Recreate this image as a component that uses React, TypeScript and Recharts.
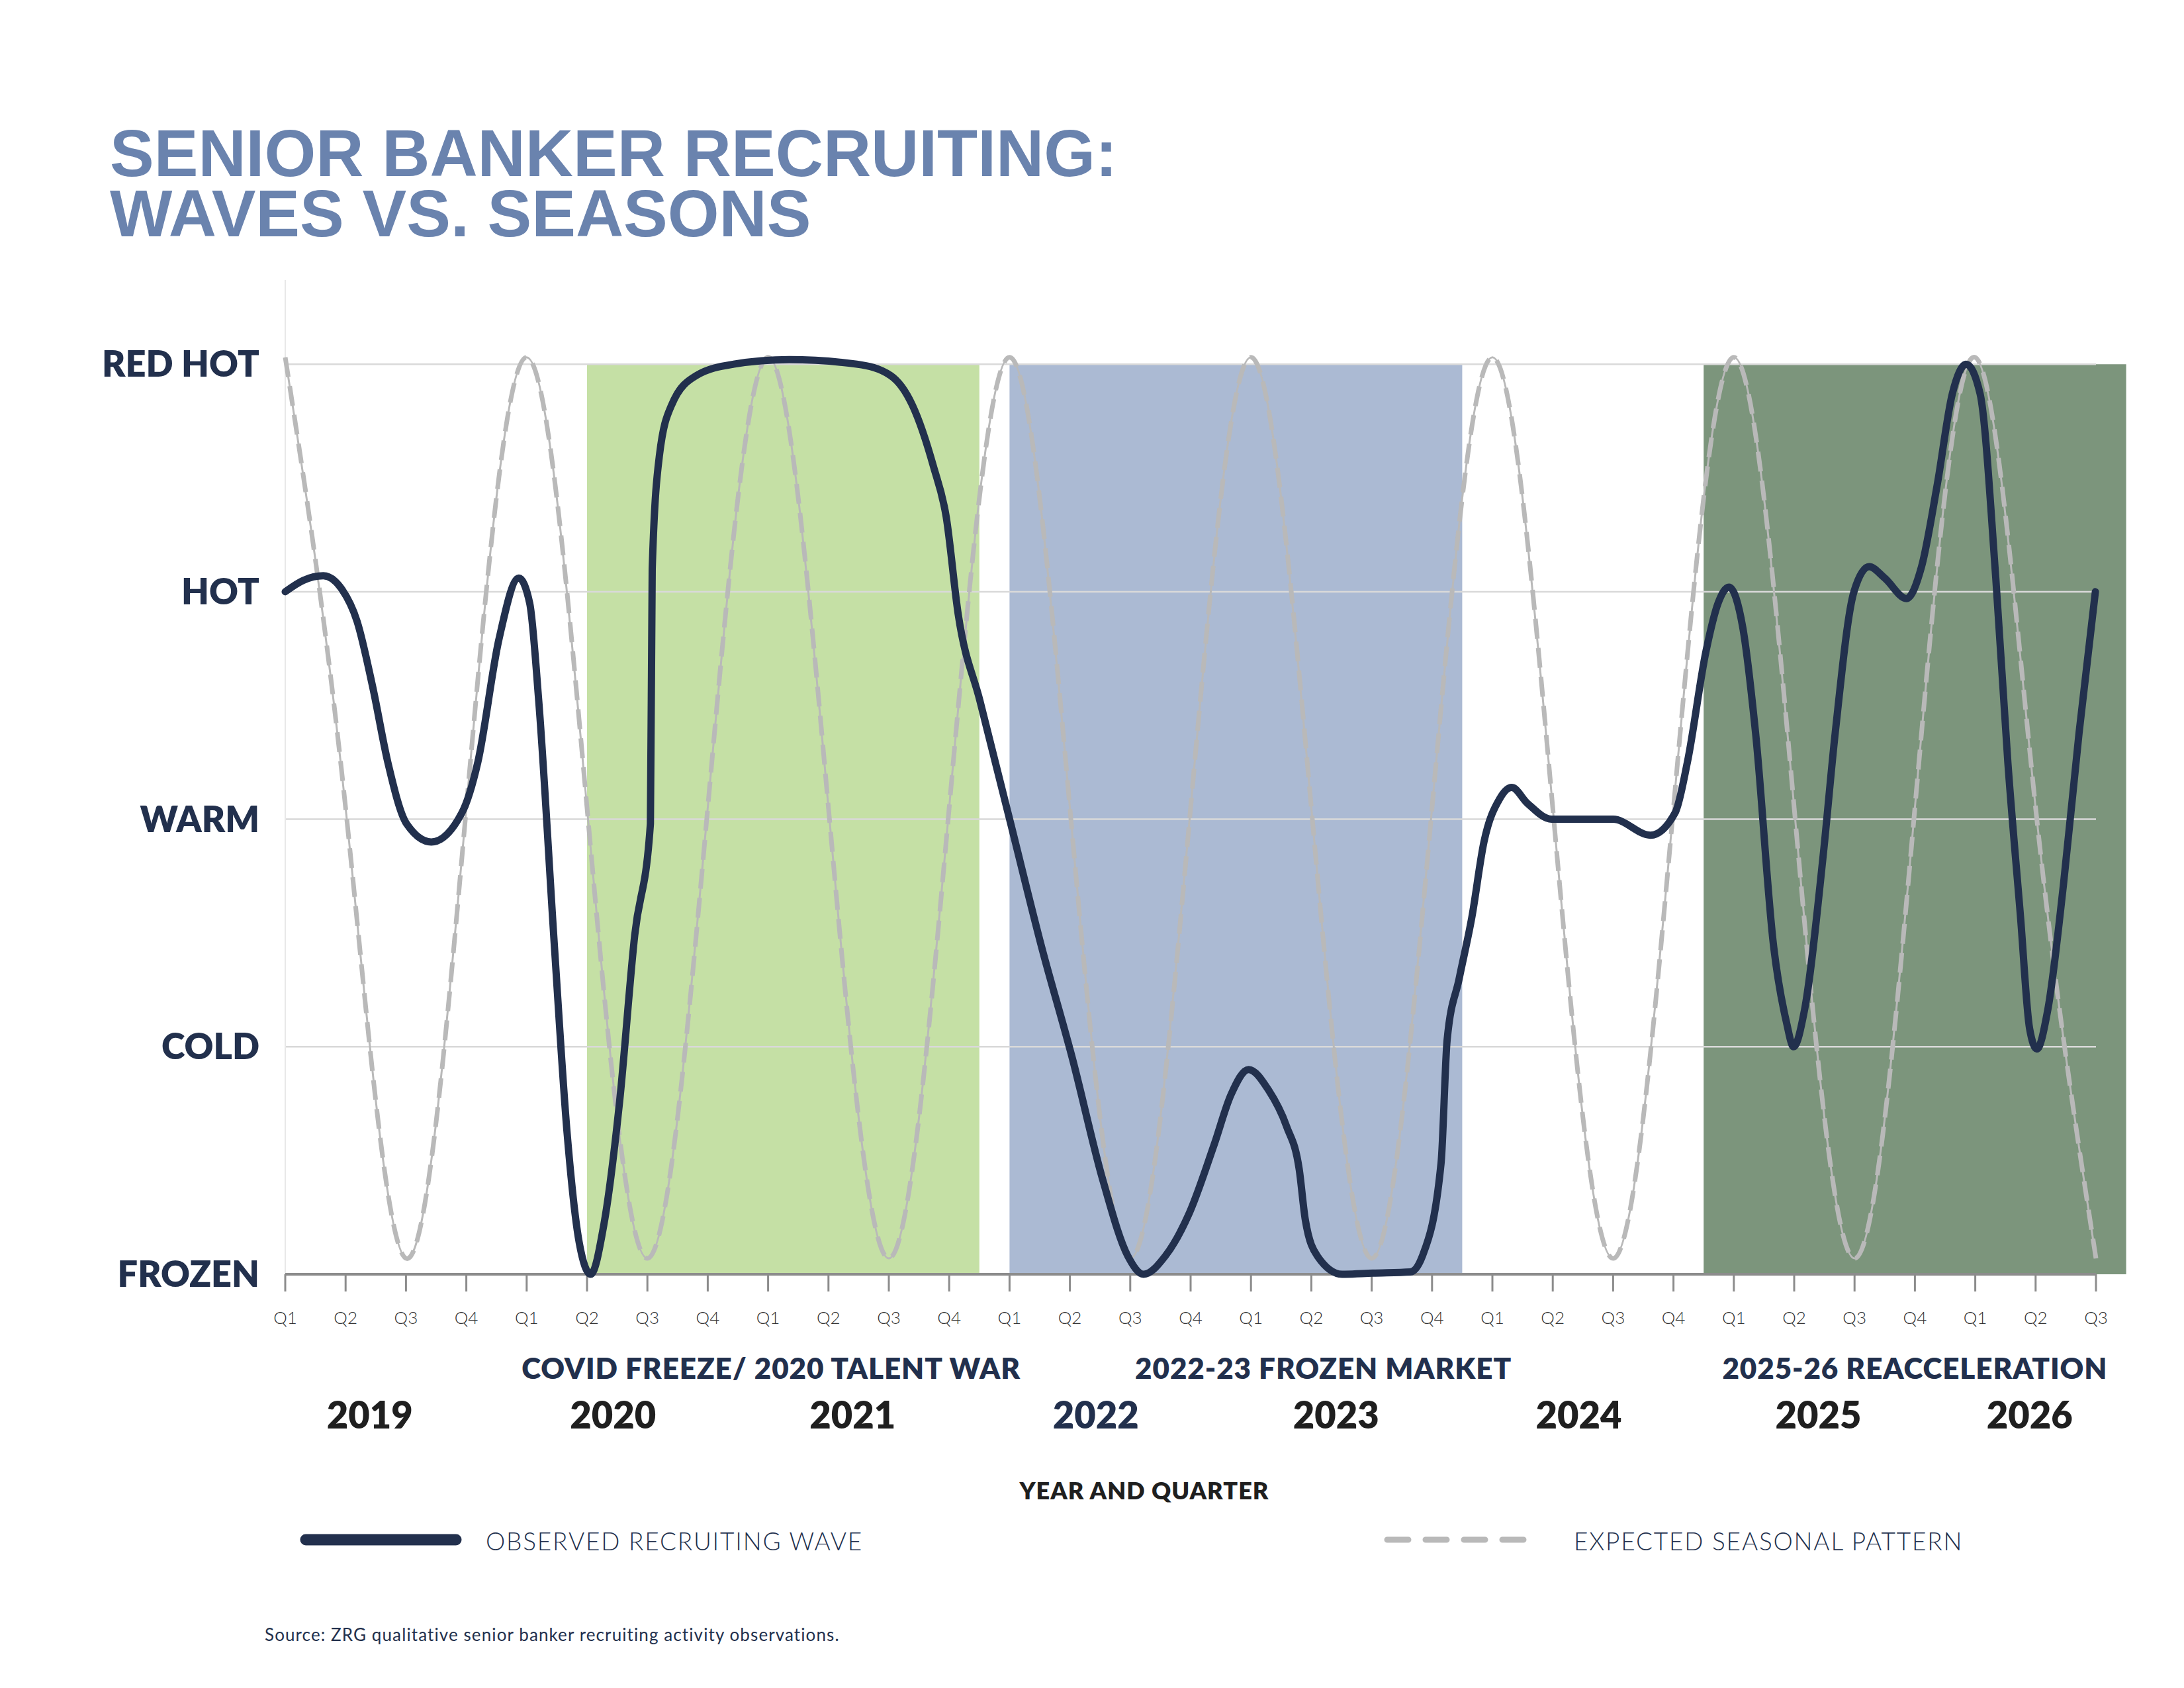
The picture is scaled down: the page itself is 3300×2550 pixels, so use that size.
import React from 'react';
import { LineChart, Line, XAxis, YAxis, ReferenceArea, ReferenceLine, ReferenceDot } from 'recharts';

// ---- data ----
const QUARTER_NAMES = ['Q1', 'Q2', 'Q3', 'Q4'];
const quarterTicks = Array.from({ length: 31 }, (_, i) => i); // 2019 Q1 .. 2026 Q3

const levelLabels = ['FROZEN', 'COLD', 'WARM', 'HOT', 'RED HOT'];
const levelTicks = [0, 1, 2, 3, 4];

const years = ['2019', '2020', '2021', '2022', '2023', '2024', '2025', '2026'];
const yearPos = [1.4, 5.43, 9.4, 13.43, 17.41, 21.43, 25.4, 28.9];

const regionNotes = ['COVID FREEZE/ 2020 TALENT WAR', '2022-23 FROZEN MARKET', '2025-26 REACCELERATION'];
const notePos = [8.05, 17.2, 27.0];
const regionSpans: [number, number][] = [
  [5, 11.5],
  [12, 19.5],
  [23.5, 30.5],
];

// expected seasonal pattern, one value per quarter
const seasonalLevel = [
  4.03, 2.05, 0.07, 2.05,
  4.03, 2.05, 0.07, 2.05,
  4.03, 2.05, 0.07, 2.05,
  4.03, 2.05, 0.07, 2.05,
  4.03, 2.05, 0.07, 2.05,
  4.03, 2.05, 0.07, 2.05,
  4.03, 2.05, 0.07, 2.05,
  4.03, 2.05, 0.07,
];

// observed wave, [quarter position, level]
const observedWave: [number, number][] = [
  [0, 3.0], [0.3, 3.05], [0.63, 3.07], [0.94, 3.01], [1.19, 2.87], [1.45, 2.58],
  [1.7, 2.25], [2.01, 1.98], [2.42, 1.9], [2.93, 2.03], [3.19, 2.25], [3.54, 2.79],
  [3.87, 3.06], [4.05, 2.95], [4.2, 2.52], [4.46, 1.44], [4.67, 0.62], [4.87, 0.14],
  [5.06, 0], [5.28, 0.22], [5.54, 0.76], [5.79, 1.49], [6.05, 1.98], [6.08, 3.1],
  [6.2, 3.6], [6.4, 3.82], [6.81, 3.95], [7.43, 4.0], [8.35, 4.02], [9.47, 4.0],
  [10.03, 3.95], [10.39, 3.82], [10.74, 3.55], [10.95, 3.33], [11.15, 2.9], [11.51, 2.52],
  [12.02, 1.98], [12.53, 1.44], [13.04, 0.95], [13.55, 0.41], [13.96, 0.08], [14.22, 0],
  [14.58, 0.08], [14.98, 0.27], [15.39, 0.57], [15.67, 0.79], [15.96, 0.9], [16.29, 0.81],
  [16.59, 0.65], [16.8, 0.46], [16.9, 0.24], [17.1, 0.08], [17.51, 0], [18.02, 0.005],
  [18.64, 0.01], [18.84, 0.08], [19.15, 0.49], [19.25, 1.03], [19.45, 1.3], [19.66, 1.57],
  [19.86, 1.9], [20.12, 2.09], [20.32, 2.14], [20.58, 2.07], [20.98, 2.0], [22.0, 2.0],
  [22.62, 1.93], [23.03, 2.03], [23.23, 2.25], [23.54, 2.74], [23.74, 2.95], [23.92, 3.02],
  [24.15, 2.84], [24.36, 2.38], [24.66, 1.44], [24.87, 1.11], [24.99, 1.0], [25.17, 1.16],
  [25.48, 1.84], [25.68, 2.38], [25.99, 3.0], [26.24, 3.11], [26.5, 3.06], [26.86, 2.97],
  [27.11, 3.11], [27.37, 3.47], [27.62, 3.87], [27.85, 4.0], [28.08, 3.87], [28.34, 3.06],
  [28.54, 2.25], [28.75, 1.57], [28.9, 1.08], [29.02, 0.99], [29.2, 1.16], [29.46, 1.71],
  [29.72, 2.38], [29.99, 3.0],
];

// ---- styles ----
const NAVY = '#22304d';
const GREY_LINE = '#b9b9b9';
const AXIS_GREY = '#8c8c8c';
const GRID = '#d9d9d9';
const TITLE_BLUE = '#6a83ae';
const REGION_FILLS = ['#c5e0a5', '#abbad3', '#7c957c'];
const FONT = 'Lato, "Noto Sans", sans-serif';

const seasonalData = seasonalLevel.map((level, i) => ({ x: i, level }));
const observedData = observedWave.map(([x, level]) => ({ x, level }));

const QuarterTick = (props: any) => (
  <text x={props.x} y={2000} textAnchor="middle" fontFamily={FONT} fontWeight={300} fontSize={26} fill="#333">
    {QUARTER_NAMES[Math.round(props.payload.value) % 4]}
  </text>
);

const LevelTick = (props: any) => (
  <text x={392} y={props.y + 19} textAnchor="end" fontFamily={FONT} fontWeight={800} fontSize={54} fill={NAVY}>
    {levelLabels[props.payload.value]}
  </text>
);

// label under the axis, centred on the dot's x (from the chart's x scale)
const rowLabel = (text: string, baseline: number, size: number, color: string, spacing = 0) => (p: any) => {
  const vb = p.viewBox || {};
  const cx = (vb.x ?? 0) + (vb.width ?? 0) / 2;
  return (
    <text
      x={cx}
      y={baseline}
      textAnchor="middle"
      fontFamily={FONT}
      fontWeight={800}
      fontSize={size}
      letterSpacing={spacing}
      fill={color}
    >
      {text}
    </text>
  );
};

export default function App() {
  return (
    <div style={{ position: 'absolute', left: 0, top: 0, width: 3300, height: 2550, background: '#fff' }}>
      <div
        style={{
          position: 'absolute',
          left: 166,
          top: 186,
          fontFamily: '"Liberation Sans", Arial, sans-serif',
          fontWeight: 700,
          fontSize: 100,
          lineHeight: '91px',
          color: TITLE_BLUE,
          whiteSpace: 'nowrap',
        }}
      >
        <div>SENIOR BANKER RECRUITING:</div>
        <div>WAVES VS. SEASONS</div>
      </div>

      <div style={{ position: 'absolute', left: 0, top: 0 }}>
        <LineChart width={3300} height={2550} margin={{ top: 423, right: 133, bottom: 525, left: 0 }}>
          {regionSpans.map(([x1, x2], i) => (
            <ReferenceArea
              key={`r${i}`}
              x1={x1}
              x2={x2}
              y1={0}
              y2={4}
              fill={REGION_FILLS[i]}
              fillOpacity={1}
              stroke="none"
              ifOverflow="visible"
              zIndex={50}
            />
          ))}
          {levelTicks.slice(1).map((v) => (
            <ReferenceLine key={`g${v}`} y={v} stroke={GRID} strokeWidth={2.5} zIndex={60} />
          ))}
          <YAxis
            type="number"
            domain={[0, 4.37]}
            ticks={levelTicks}
            interval={0}
            width={431}
            tickLine={false}
            axisLine={{ stroke: '#e8e8e8', strokeWidth: 2 }}
            tick={LevelTick}
          />
          <XAxis
            type="number"
            dataKey="x"
            domain={[0, 30]}
            ticks={quarterTicks}
            interval={0}
            height={100}
            tickSize={26}
            tickLine={{ stroke: AXIS_GREY, strokeWidth: 3 }}
            axisLine={{ stroke: AXIS_GREY, strokeWidth: 4 }}
            tick={QuarterTick}
          />
          {regionNotes.map((note, i) => (
            <ReferenceDot
              key={`n${i}`}
              x={notePos[i]}
              y={0}
              r={0}
              fill="none"
              stroke="none"
              label={rowLabel(note, 2083, 44, NAVY, 0.9)}
            />
          ))}
          {years.map((yr, i) => (
            <ReferenceDot
              key={`y${i}`}
              x={yearPos[i]}
              y={0}
              r={0}
              fill="none"
              stroke="none"
              label={rowLabel(yr, 2158, 56, yr === '2022' ? NAVY : '#1f1f1f')}
            />
          ))}
          <Line
            data={seasonalData}
            dataKey="level"
            type="natural"
            stroke={GREY_LINE}
            strokeWidth={3}
            dot={false}
            activeDot={false}
            isAnimationActive={false}
            zIndex={700}
          />
          <Line
            data={seasonalData}
            dataKey="level"
            type="natural"
            stroke={GREY_LINE}
            strokeWidth={7}
            strokeDasharray="30 14"
            dot={false}
            activeDot={false}
            isAnimationActive={false}
            zIndex={710}
          />
          <Line
            data={observedData}
            dataKey="level"
            type="monotone"
            stroke={NAVY}
            strokeWidth={11}
            strokeLinecap="round"
            strokeLinejoin="round"
            dot={false}
            activeDot={false}
            isAnimationActive={false}
            zIndex={720}
          />
        </LineChart>
      </div>

      <svg width={3300} height={2550} style={{ position: 'absolute', left: 0, top: 0, pointerEvents: 'none' }}>
        <text x={1729} y={2265} textAnchor="middle" fontFamily={FONT} fontWeight={800} fontSize={36} letterSpacing={1} fill="#1f1f1f">
          YEAR AND QUARTER
        </text>
        <line x1={462} y1={2326} x2={689} y2={2326} stroke={NAVY} strokeWidth={17} strokeLinecap="round" />
        <text x={734} y={2342} fontFamily={FONT} fontWeight={300} fontSize={37} letterSpacing={1.8} fill={NAVY}>
          OBSERVED RECRUITING WAVE
        </text>
        <line
          x1={2096}
          y1={2326}
          x2={2306}
          y2={2326}
          stroke={GREY_LINE}
          strokeWidth={9}
          strokeLinecap="round"
          strokeDasharray="32 26"
        />
        <text x={2378} y={2342} fontFamily={FONT} fontWeight={300} fontSize={37} letterSpacing={1.8} fill={NAVY}>
          EXPECTED SEASONAL PATTERN
        </text>
        <text x={400} y={2479} fontFamily={FONT} fontWeight={400} fontSize={26} letterSpacing={1.1} fill={NAVY}>
          Source: ZRG qualitative senior banker recruiting activity observations.
        </text>
      </svg>
    </div>
  );
}
